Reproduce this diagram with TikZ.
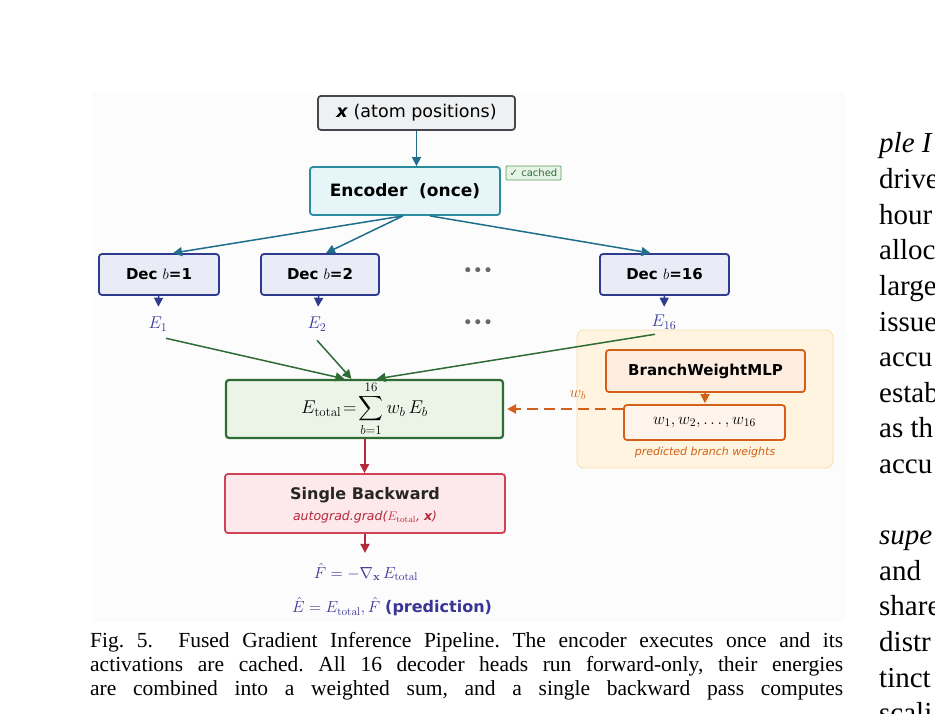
\RequirePackage{fix-cm}
\documentclass[tikz,border=0pt]{standalone}
\usepackage{amsmath}
\usepackage[no-math]{fontspec}
\setmainfont{DejaVu Sans}
\newfontfamily\paperfont{Liberation Serif}
\usetikzlibrary{arrows.meta,positioning,calc}
\definecolor{figbg}{HTML}{FCFCFC}
\definecolor{inkgray}{HTML}{44484D}
\definecolor{inputfill}{HTML}{EEF0F2}
\definecolor{encteal}{HTML}{2A8C9C}
\definecolor{encfill}{HTML}{E6F6F8}
\definecolor{arrteal}{HTML}{1F6E8C}
\definecolor{tagline}{HTML}{5AA05F}
\definecolor{tagfill}{HTML}{E6F4E6}
\definecolor{tagtext}{HTML}{2E6B35}
\definecolor{decnavy}{HTML}{2F3B8C}
\definecolor{decfill}{HTML}{E9EBF7}
\definecolor{elab}{HTML}{3C3C99}
\definecolor{sumgreen}{HTML}{2F6B35}
\definecolor{sumfill}{HTML}{EAF5E8}
\definecolor{mlporange}{HTML}{D2601A}
\definecolor{mlpfill}{HTML}{FDEDE0}
\definecolor{zonefill}{HTML}{FEF4E0}
\definecolor{zoneline}{HTML}{F8DDB0}
\definecolor{sbred}{HTML}{B5293A}
\definecolor{sbline}{HTML}{CC4455}
\definecolor{sbfill}{HTML}{FDE8EB}
\definecolor{outink}{HTML}{3B3494}
\tikzset{
  >={Triangle[length=9pt,width=9pt]},
  blk/.style={draw, rounded corners=3pt, line width=1.8pt, inner sep=0pt, align=center},
  inbox/.style={blk, draw=inkgray, fill=inputfill, minimum width=197pt, minimum height=34pt,
    font=\fontsize{17.5}{20}\selectfont},
  encbox/.style={blk, draw=encteal, fill=encfill, minimum width=190pt, minimum height=48pt,
    font=\fontsize{17}{20}\selectfont\bfseries},
  tagbox/.style={draw=tagline, fill=tagfill, line width=0.8pt, rounded corners=1pt, inner sep=0pt,
    minimum width=55pt, minimum height=14pt, text=tagtext, font=\fontsize{10}{11}\selectfont},
  decbox/.style={blk, draw=decnavy, fill=decfill, minimum height=41pt,
    font=\fontsize{15}{18}\selectfont\bfseries},
  elabel/.style={text=elab, inner sep=1pt, font=\fontsize{17}{19}\selectfont},
  dots/.style={text=black!60, font=\fontsize{17}{18}\selectfont},
  sumbox/.style={blk, line width=2.2pt, draw=sumgreen, fill=sumfill, minimum width=277pt,
    minimum height=58pt, font=\fontsize{18.5}{20}\selectfont},
  zone/.style={draw=zoneline, fill=zonefill, line width=0.8pt, rounded corners=7pt,
    minimum width=256pt, minimum height=138pt},
  mlpbox/.style={blk, draw=mlporange, fill=mlpfill, minimum width=199pt, minimum height=42pt,
    font=\fontsize{15}{18}\selectfont\bfseries},
  wbox/.style={blk, draw=mlporange, fill=mlpfill!60!white, minimum width=161pt, minimum height=35pt,
    font=\fontsize{16.5}{18}\selectfont},
  note/.style={text=mlporange, font=\fontsize{11}{13}\selectfont\itshape},
  sbbox/.style={blk, draw=sbline, fill=sbfill, minimum width=280pt, minimum height=59pt},
  sbtitle/.style={font=\fontsize{16}{19}\selectfont\bfseries, text=black!85},
  sbcall/.style={text=sbred, font=\fontsize{12.5}{15}\selectfont\itshape},
  outlabel/.style={text=outink, font=\fontsize{16}{18}\selectfont},
  captext/.style={anchor=base west, inner sep=0pt, font=\paperfont\fontsize{21.5}{24}\selectfont},
  coltext/.style={anchor=base west, inner sep=0pt, font=\paperfont\fontsize{29}{30}\selectfont},
  tealarr/.style={->, draw=arrteal, line width=1.5pt},
  decarr/.style={->, draw=decnavy, line width=1.5pt},
  greenarr/.style={->, draw=sumgreen, line width=1.5pt},
  redarr/.style={->, draw=sbred, line width=2pt},
}
\begin{document}
\frenchspacing
\begin{tikzpicture}[x=1pt, y=-1pt]
  \useasboundingbox (0,0) rectangle (935,714);
  \fill[figbg] (92,92) rectangle (845,622);

  % input and encoder
  \node[inbox] (xin) at (416.5,113) {\textbf{\textit{x}} (atom positions)};
  \node[encbox] (enc) at (405,191) {Encoder~~(once)};
  \node[tagbox] (tag) at (533.5,173) {✓ cached};

  % decoder heads
  \node[decbox, minimum width=120pt] (d1) at (159,274.5) {Dec $b$=1};
  \node[decbox, minimum width=118pt] (d2) at (320,274.5) {Dec $b$=2};
  \node[dots] (ddots) at (478,272) {•••};
  \node[decbox, minimum width=129pt] (d16) at (664.5,274.5) {Dec $b$=16};

  \node[elabel] (e1) at (158,324) {$E_1$};
  \node[elabel] (e2) at (317,324) {$E_2$};
  \node[dots] (edots) at (478,324) {•••};
  \node[elabel] (e16) at (664,322) {$E_{16}$};

  % branch weights
  \node[zone] (zone) at (705,399) {};
  \node[mlpbox] (mlp) at (705.5,371) {BranchWeightMLP};
  \node[wbox] (wv) at (704.5,422.5) {$w_1,w_2,\ldots,w_{16}$};
  \node[note] (wnote) at (705,452) {predicted branch weights};

  % sum and backward
  \node[sumbox] (etot) at (364.5,409) {$\displaystyle E_{\mathrm{total}}\!=\!\sum_{b=1}^{16} w_b\,E_b$};
  \node[sbbox] (sb) at (365,503.5) {};
  \node[sbtitle] (sbt) at (365,495) {Single Backward};
  \node[sbcall] (sbc) at (365,517) {autograd.grad($E_{\mathrm{total}}$, \textbf{x})};
  \node[outlabel] (fhat) at (366,572) {$\hat{F}=-\nabla_{\mathbf{x}}\,E_{\mathrm{total}}$};
  \node[outlabel] (ehat) at (392,607) {$\hat{E}=E_{\mathrm{total}},\hat{F}$ \textbf{(prediction)}};

  \draw[tealarr] (xin) -- (xin |- enc.north);
  \draw[tealarr] ([xshift=-2pt]enc.south) -- ([xshift=14pt]d1.north);
  \draw[tealarr] ([xshift=-2pt]enc.south) -- ([xshift=6pt]d2.north);
  \draw[tealarr] ([xshift=25pt]enc.south) -- ([xshift=-14pt]d16.north);

  \draw[decarr, shorten >=9pt] (d1) -- (e1);
  \draw[decarr, shorten >=9pt] (d2) -- (e2);
  \draw[decarr, shorten >=7pt] (d16) -- (e16);

  \draw[greenarr] ([xshift=8pt,yshift=-6pt]e1.south) -- ([xshift=-20pt]etot.north);
  \draw[greenarr] ([yshift=-8pt]e2.south) -- ([xshift=-13pt]etot.north);
  \draw[greenarr] ([xshift=-9pt,yshift=-4pt]e16.south) -- ([xshift=12pt]etot.north);

  \draw[decarr, draw=mlporange, shorten >=1pt] (mlp) -- (wv);
  \draw[->, draw=mlporange, line width=2.5pt, dash pattern=on 11pt off 6pt, shorten >=3pt]
    (wv.west |- etot.east) -- node[above=5pt, pos=0.38, text=mlporange,
    font=\fontsize{16}{18}\selectfont] (wlab) {$w_b$} (etot.east);

  \draw[redarr] (etot.south) -- (etot.south |- sb.north);
  \draw[redarr] (sb.south) -- ++(0,-19pt) coordinate (fgap);

  % caption and running text
  \node[captext] (cap1) at (90,647) {\makebox[753pt][s]{Fig. 5.\ \ Fused Gradient Inference Pipeline. The encoder executes once and its}};
  \node[captext] (cap2) at (90,671) {\makebox[753pt][s]{activations are cached. All 16 decoder heads run forward-only, their energies}};
  \node[captext] (cap3) at (90,695) {\makebox[753pt][s]{are combined into a weighted sum, and a single backward pass computes}};

  \foreach \word [count=\k from 0] in {\textit{ple I}, drive, hour, alloc, large, issue, accu, estab,
      as th, accu, {}, \textit{supe}, and, share, distr, tinct, scali}
    \node[coltext] (col\k) at (879,153+35.6*\k) {\word};
\end{tikzpicture}
\end{document}
